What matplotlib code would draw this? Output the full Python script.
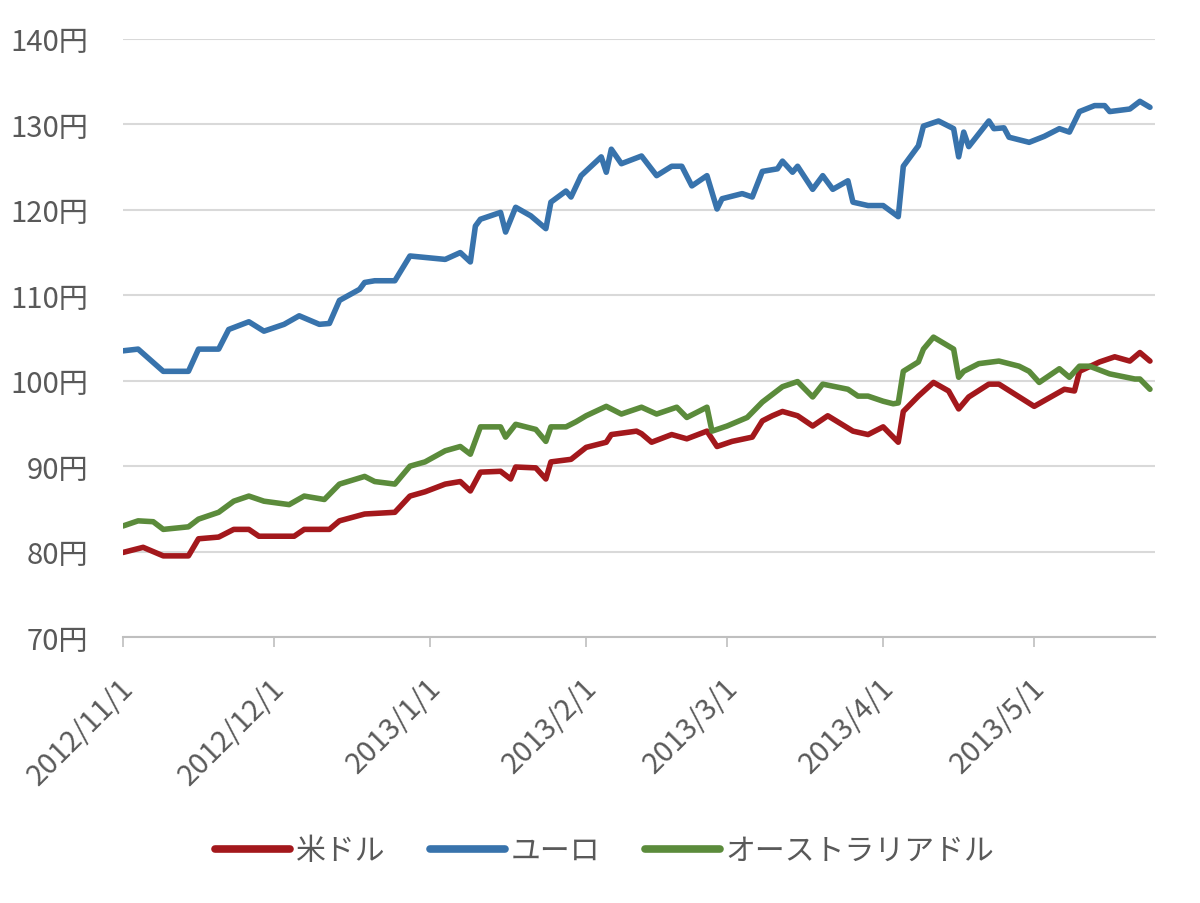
import numpy as np
import pandas as pd
import matplotlib
matplotlib.use('Agg')
import matplotlib.pyplot as plt
import matplotlib.dates as mdates
import matplotlib.transforms as mtransforms
from matplotlib.ticker import FuncFormatter

plt.rcParams['font.family'] = ['Noto Sans CJK JP', 'DejaVu Sans']

# 米ドル
usd_dates = ['2012-11-01', '2012-11-05', '2012-11-09', '2012-11-14', '2012-11-16', '2012-11-20',
             '2012-11-23', '2012-11-26', '2012-11-28', '2012-12-05', '2012-12-07', '2012-12-12',
             '2012-12-14', '2012-12-19', '2012-12-25', '2012-12-28', '2012-12-31', '2013-01-04',
             '2013-01-07', '2013-01-09', '2013-01-11', '2013-01-15', '2013-01-17', '2013-01-18',
             '2013-01-22', '2013-01-24', '2013-01-25', '2013-01-29', '2013-02-01', '2013-02-05',
             '2013-02-06', '2013-02-11', '2013-02-12', '2013-02-14', '2013-02-18', '2013-02-21',
             '2013-02-25', '2013-02-27', '2013-03-02', '2013-03-06', '2013-03-08', '2013-03-10',
             '2013-03-12', '2013-03-15', '2013-03-18', '2013-03-21', '2013-03-26', '2013-03-29',
             '2013-04-01', '2013-04-04', '2013-04-05', '2013-04-08', '2013-04-11', '2013-04-14',
             '2013-04-16', '2013-04-18', '2013-04-22', '2013-04-24', '2013-05-01', '2013-05-07',
             '2013-05-09', '2013-05-10', '2013-05-14', '2013-05-17', '2013-05-20', '2013-05-22',
             '2013-05-24']
usd_values = [79.9, 80.5, 79.5, 79.5, 81.5, 81.7,
              82.6, 82.6, 81.8, 81.8, 82.6, 82.6,
              83.6, 84.4, 84.6, 86.5, 87.0, 87.9,
              88.2, 87.1, 89.3, 89.4, 88.5, 89.9,
              89.8, 88.5, 90.5, 90.8, 92.2, 92.8,
              93.7, 94.1, 93.8, 92.8, 93.7, 93.2,
              94.1, 92.3, 92.9, 93.4, 95.3, 95.9,
              96.4, 95.9, 94.7, 95.9, 94.1, 93.7,
              94.6, 92.8, 96.4, 98.2, 99.8, 98.8,
              96.7, 98.1, 99.6, 99.6, 97.0, 99.0,
              98.8, 101.1, 102.2, 102.8, 102.3, 103.3,
              102.3]

# ユーロ
eur_dates = ['2012-11-01', '2012-11-04', '2012-11-09', '2012-11-14', '2012-11-16', '2012-11-20',
             '2012-11-22', '2012-11-26', '2012-11-29', '2012-12-03', '2012-12-06', '2012-12-10',
             '2012-12-12', '2012-12-14', '2012-12-18', '2012-12-19', '2012-12-21', '2012-12-25',
             '2012-12-28', '2013-01-04', '2013-01-07', '2013-01-09', '2013-01-10', '2013-01-11',
             '2013-01-15', '2013-01-16', '2013-01-18', '2013-01-21', '2013-01-24', '2013-01-25',
             '2013-01-28', '2013-01-29', '2013-01-31', '2013-02-04', '2013-02-05', '2013-02-06',
             '2013-02-08', '2013-02-12', '2013-02-15', '2013-02-18', '2013-02-20', '2013-02-22',
             '2013-02-25', '2013-02-27', '2013-02-28', '2013-03-04', '2013-03-06', '2013-03-08',
             '2013-03-11', '2013-03-12', '2013-03-14', '2013-03-15', '2013-03-18', '2013-03-20',
             '2013-03-22', '2013-03-25', '2013-03-26', '2013-03-29', '2013-04-01', '2013-04-04',
             '2013-04-05', '2013-04-08', '2013-04-09', '2013-04-12', '2013-04-15', '2013-04-16',
             '2013-04-17', '2013-04-18', '2013-04-22', '2013-04-23', '2013-04-25', '2013-04-26',
             '2013-04-30', '2013-05-03', '2013-05-06', '2013-05-08', '2013-05-10', '2013-05-13',
             '2013-05-15', '2013-05-16', '2013-05-20', '2013-05-22', '2013-05-24']
eur_values = [103.5, 103.7, 101.1, 101.1, 103.7, 103.7,
              106.0, 106.9, 105.8, 106.6, 107.6, 106.6,
              106.7, 109.4, 110.7, 111.5, 111.7, 111.7,
              114.6, 114.2, 115.0, 113.9, 118.1, 118.9,
              119.7, 117.4, 120.3, 119.3, 117.8, 120.9,
              122.2, 121.5, 124.0, 126.2, 124.4, 127.1,
              125.4, 126.3, 124.0, 125.1, 125.1, 122.8,
              124.0, 120.1, 121.3, 121.9, 121.5, 124.5,
              124.8, 125.7, 124.4, 125.1, 122.4, 124.0,
              122.4, 123.4, 120.9, 120.5, 120.5, 119.2,
              125.1, 127.5, 129.8, 130.4, 129.5, 126.2,
              129.1, 127.4, 130.4, 129.5, 129.6, 128.5,
              127.9, 128.6, 129.5, 129.1, 131.5, 132.2,
              132.2, 131.5, 131.8, 132.7, 132.0]

# オーストラリアドル
aud_dates = ['2012-11-01', '2012-11-04', '2012-11-07', '2012-11-09', '2012-11-14', '2012-11-16',
             '2012-11-20', '2012-11-23', '2012-11-26', '2012-11-29', '2012-12-04', '2012-12-07',
             '2012-12-11', '2012-12-14', '2012-12-19', '2012-12-21', '2012-12-25', '2012-12-28',
             '2012-12-31', '2013-01-04', '2013-01-07', '2013-01-09', '2013-01-11', '2013-01-15',
             '2013-01-16', '2013-01-18', '2013-01-22', '2013-01-24', '2013-01-25', '2013-01-28',
             '2013-01-30', '2013-02-01', '2013-02-05', '2013-02-08', '2013-02-12', '2013-02-15',
             '2013-02-19', '2013-02-21', '2013-02-25', '2013-02-26', '2013-03-01', '2013-03-05',
             '2013-03-08', '2013-03-12', '2013-03-15', '2013-03-18', '2013-03-20', '2013-03-25',
             '2013-03-27', '2013-03-29', '2013-04-01', '2013-04-03', '2013-04-04', '2013-04-05',
             '2013-04-08', '2013-04-09', '2013-04-11', '2013-04-15', '2013-04-16', '2013-04-17',
             '2013-04-20', '2013-04-24', '2013-04-28', '2013-04-30', '2013-05-02', '2013-05-06',
             '2013-05-08', '2013-05-10', '2013-05-12', '2013-05-16', '2013-05-21', '2013-05-22',
             '2013-05-24']
aud_values = [83.0, 83.6, 83.5, 82.6, 82.9, 83.8,
              84.6, 85.9, 86.5, 85.9, 85.5, 86.5,
              86.1, 87.9, 88.8, 88.2, 87.9, 90.0,
              90.5, 91.8, 92.3, 91.4, 94.6, 94.6,
              93.4, 94.9, 94.3, 92.9, 94.6, 94.6,
              95.2, 95.9, 97.0, 96.1, 96.9, 96.1,
              96.9, 95.7, 96.9, 94.1, 94.7, 95.7,
              97.5, 99.3, 99.9, 98.1, 99.6, 99.0,
              98.2, 98.2, 97.6, 97.3, 97.4, 101.1,
              102.2, 103.7, 105.1, 103.7, 100.4, 101.1,
              102.0, 102.3, 101.7, 101.1, 99.8, 101.4,
              100.4, 101.7, 101.7, 100.8, 100.2, 100.2,
              99.0]

series_names = ['米ドル', 'ユーロ', 'オーストラリアドル']
y_ticks = [70, 80, 90, 100, 110, 120, 130, 140]
x_ticks = ['2012-11-01', '2012-12-01', '2013-01-01', '2013-02-01',
           '2013-03-01', '2013-04-01', '2013-05-01']

RED = '#A3181C'
BLUE = '#3873AC'
GREEN = '#5B8B3B'
GRID = '#D9D9D9'
AXIS = '#BFBFBF'
LABEL = '#595959'

fig = plt.figure(figsize=(12, 9.04), dpi=100)
ax = fig.add_axes([0.1025, 0.2942, 0.86, 0.6616])

series = [
    (usd_dates, usd_values, RED),
    (eur_dates, eur_values, BLUE),
    (aud_dates, aud_values, GREEN),
]
for (d, v, c), name in zip(series, series_names):
    ax.plot(pd.to_datetime(d), v, color=c, linewidth=4, label=name,
            solid_joinstyle='round', solid_capstyle='round')

ax.set_ylim(70, 140)
ax.set_yticks(y_ticks)
ax.yaxis.set_major_formatter(FuncFormatter(lambda v, p: f'{int(v)}円'))
ax.set_xlim(pd.Timestamp('2012-11-01'), pd.Timestamp('2013-05-25'))
ax.set_xticks(pd.to_datetime(x_ticks))
ax.xaxis.set_major_formatter(mdates.DateFormatter('%Y/%-m/%-d'))

ax.grid(axis='y', color=GRID, linewidth=1.5, zorder=0)
ax.set_axisbelow(True)
for s in ['top', 'right', 'left']:
    ax.spines[s].set_visible(False)
ax.spines['bottom'].set_color(AXIS)
ax.spines['bottom'].set_linewidth(1.5)

ax.tick_params(axis='y', length=0, pad=25, labelsize=21, labelcolor=LABEL)
ax.tick_params(axis='x', length=7, width=1.2, color=AXIS, pad=10,
               labelsize=21, labelcolor=LABEL)
# nudge the slanted date labels down-left to sit like the original
shift = mtransforms.ScaledTranslation(-4 / 100, -12 / 100, fig.dpi_scale_trans)
for lbl in ax.get_xticklabels():
    lbl.set_rotation(45)
    lbl.set_ha('right')
    lbl.set_va('top')
    lbl.set_rotation_mode('anchor')
    lbl.set_transform(lbl.get_transform() + shift)

leg = fig.legend(loc='center', bbox_to_anchor=(0.504, 0.058), ncol=3, frameon=False,
                 fontsize=21.5, handlelength=2.5, handletextpad=0.2, columnspacing=1.5)
for t in leg.get_texts():
    t.set_color(LABEL)
for h in leg.get_lines():
    h.set_linewidth(5.5)

fig.savefig('out.png', dpi=100, facecolor='white')
